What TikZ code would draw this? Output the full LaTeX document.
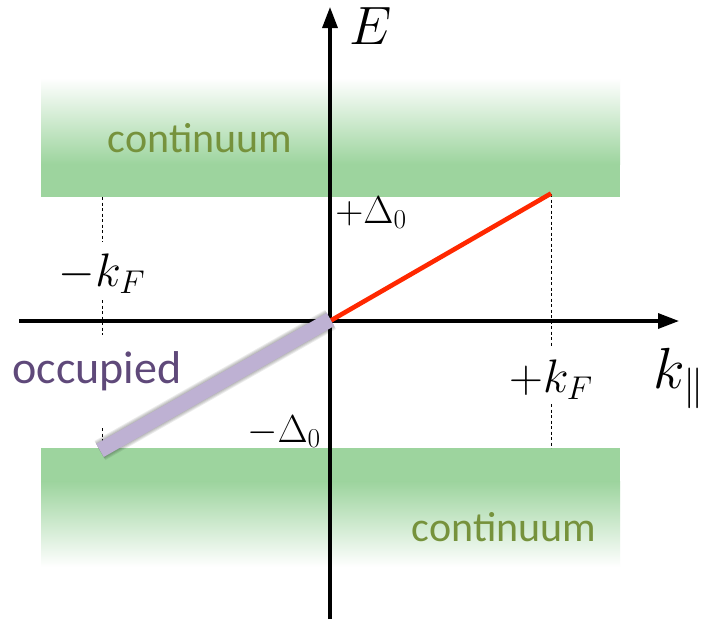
\RequirePackage{fix-cm}
\documentclass[tikz,border=0pt]{standalone}
\usepackage{fontspec}
\newfontfamily\carl{Carlito}
\usetikzlibrary{arrows.meta}
\definecolor{bandgreen}{RGB}{157,212,158}
\definecolor{contgreen}{HTML}{76923C}
\definecolor{occpurple}{HTML}{5F497A}
\definecolor{lav}{RGB}{190,177,211}
\definecolor{redline}{RGB}{255,40,0}
\tikzset{
  axis/.style={line width=3.3pt,-{Triangle[length=21pt,width=15pt]}},
  guide/.style={line width=0.8pt,dash pattern=on 3pt off 2.5pt},
  conttext/.style={font=\carl\fontsize{42}{48}\selectfont,text=contgreen,anchor=base,inner sep=0pt},
  lbl/.style={anchor=base,inner sep=0pt},
  shad/.style={black,opacity=0.08,line cap=butt},
}
\begin{document}
\begin{tikzpicture}[x=1pt,y=-1pt]
\useasboundingbox (0,0) rectangle (704,619);
\fill[white] (0,0) rectangle (704,619);
% bands
\shade[top color=white,bottom color=bandgreen] (41,78) rectangle (620,164);
\fill[bandgreen] (41,163.5) rectangle (620,197);
\fill[bandgreen] (41,448) rectangle (620,482);
\shade[top color=bandgreen,bottom color=white] (41,481.5) rectangle (620,567);
% guides
\draw[guide] (102,197) -- (102,242) (102,300) -- (102,335) (102,428) -- (102,448);
\draw[guide] (551,194) -- (551,347) (551,404) -- (551,448);
% axes
\coordinate (O) at (330,321);
\coordinate (xs) at (19,321);
\coordinate (xe) at (679,321);
\coordinate (ys) at (330,619);
\coordinate (ye) at (330,7);
\draw[axis] (xs) -- (xe);
\draw[axis] (ys) -- (ye);
% red branch
\coordinate (kF) at (551,193.5);
\draw[redline,line width=4.6pt] (O) -- (kF);
% occupied bar shadow
\coordinate (b1) at (100,450.5);
\coordinate (b2) at (330.5,319.5);
\begin{scope}[shift={(2.5,4)}]
\foreach \w in {22,20,18,16,14,12}{
  \draw[shad,line width=\w pt] (b1) -- (b2);
}
\end{scope}
% occupied bar
\fill[lav] (96.3,444.0) -- (326.8,313.0) -- (334.2,326.0) -- (103.7,457.0) -- cycle;
% texts
\node[conttext] (c1) at (200,152) {continuum};
\node[conttext] (c2) at (504,541) {continuum};
\node[font=\carl\fontsize{46}{52}\selectfont,text=occpurple,anchor=base,inner sep=0pt] (occ) at (97,383) {occupied};
\node[lbl,font=\fontsize{54}{60}\selectfont] (E) at (371,44) {$E$};
\node[lbl,font=\fontsize{47}{54}\selectfont] (mkf) at (102,286) {$-k_F$};
\node[lbl,font=\fontsize{47}{54}\selectfont] (pkf) at (551,392) {$+k_F$};
\node[lbl,font=\fontsize{58}{66}\selectfont] (kpar) at (679,388) {$k_\parallel$};
\node[lbl,font=\fontsize{39}{46}\selectfont] (pd) at (371,223) {$+\Delta_0$};
\node[lbl,font=\fontsize{39}{46}\selectfont] (md) at (284,442) {$-\Delta_0$};
\end{tikzpicture}
\end{document}
